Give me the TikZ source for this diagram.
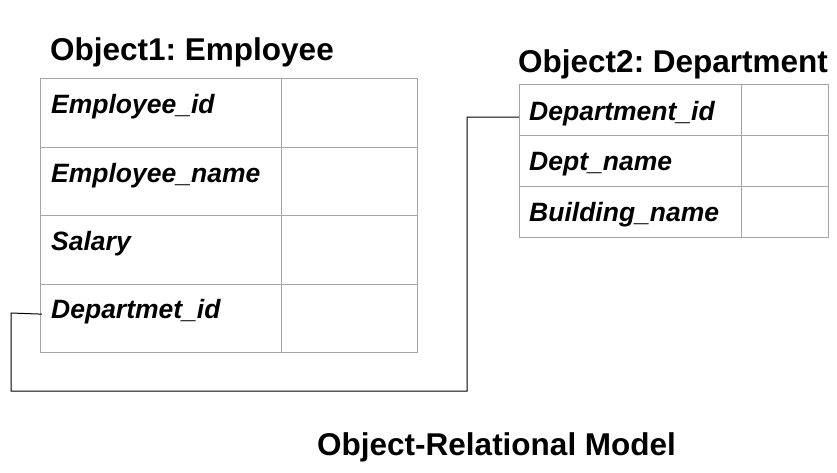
\documentclass[tikz,border=0pt]{standalone}
\usepackage{fontspec}
\setmainfont{Liberation Sans}
\frenchspacing
\definecolor{tablegray}{RGB}{165,165,165}
\begin{document}
\begin{tikzpicture}[x=1pt,y=-1pt,
  ecell/.style={draw=tablegray,line width=1pt,anchor=north west,inner sep=0pt,minimum height=68.5pt,minimum width=#1},
  dcell/.style={draw=tablegray,line width=1pt,anchor=north west,inner sep=0pt,minimum height=51pt,minimum width=#1},
  title/.style={anchor=base west,inner sep=0pt,font=\fontsize{31.5}{36}\selectfont\bfseries},
  elbl/.style={anchor=base west,inner ysep=0pt,inner xsep=9pt,font=\fontsize{26.5}{30}\selectfont\bfseries\itshape},
  dlbl/.style={anchor=base west,inner ysep=0pt,inner xsep=10pt,font=\fontsize{26.5}{30}\selectfont\bfseries\itshape},
  conn/.style={draw=black,line width=1pt}]
\useasboundingbox (0,0) rectangle (837,472);
% titles
\node[title] (t1) at (50,60) {Object1: Employee};
\node[title] (t2) at (518,72) {Object2: Department};
\node[title] (t3) at (317,455) {Object-Relational Model};
% employee table
\foreach \i/\y in {1/78,2/146.5,3/215,4/283.5}{
  \node[ecell=241pt] (ea\i) at (40,\y) {};
  \node[ecell=136pt] (eb\i) at (281,\y) {};
}
\node[elbl] (e1) at (42,113) {Employee\_id};
\node[elbl] (e2) at (42,182) {Employee\_name};
\node[elbl] (e3) at (42,250) {Salary};
\node[elbl] (e4) at (42,318) {Departmet\_id};
% department table
\foreach \i/\y in {1/84,2/135,3/186}{
  \node[dcell=222pt] (da\i) at (519,\y) {};
  \node[dcell=87pt] (db\i) at (741,\y) {};
}
\node[dlbl] (d1) at (519,120) {Department\_id};
\node[dlbl] (d2) at (519,170) {Dept\_name};
\node[dlbl] (d3) at (519,221) {Building\_name};
% connector
\coordinate (k1) at (467,117);
\coordinate (k2) at (467,391);
\coordinate (k3) at (11,391);
\coordinate (k4) at (11,313);
\draw[conn] ([yshift=-4pt]d1.west) -- (k1) -- (k2) -- (k3) -- (k4) -- ([yshift=-3pt]e4.west);
\end{tikzpicture}
\end{document}
